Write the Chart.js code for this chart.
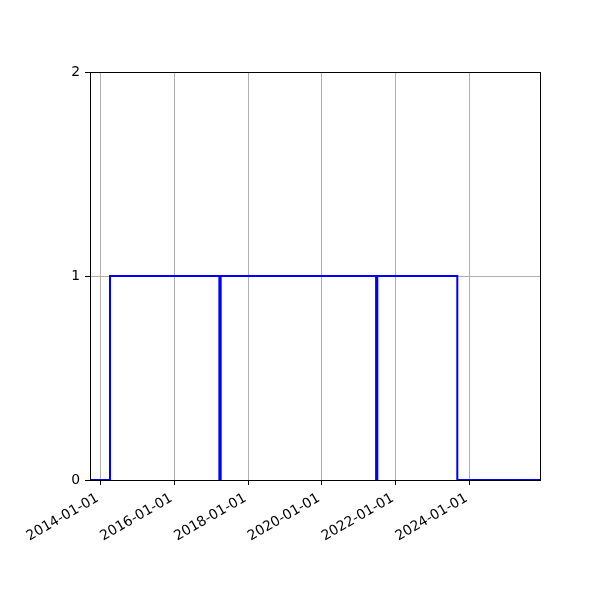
<!DOCTYPE html>
<html>
<head>
<meta charset="utf-8">
<script src="https://cdn.jsdelivr.net/npm/chart.js@4"></script>
<style>
  html, body { margin: 0; padding: 0; background: #fff; }
  canvas { display: block; }
</style>
</head>
<body>
<canvas id="steps" width="600" height="600"></canvas>
<script>
  // ===============Data ==================//
  const stepDates = [
    "2013-09-17",
    "2014-04-03",
    "2017-03-21",
    "2017-04-03",
    "2021-06-20",
    "2021-07-02",
    "2023-09-02",
    "2025-11-29",
  ];
  const stepValues = [0, 1, 0, 1, 0, 1, 0, 0];
  const tickDates = [
    "2014-01-01",
    "2016-01-01",
    "2018-01-01",
    "2020-01-01",
    "2022-01-01",
    "2024-01-01",
  ];
  const yTicks = [0, 1, 2];
  const xLimits = ["2013-09-17", "2025-11-29"];

  const toTime = (d) => Date.parse(d + "T00:00:00Z");
  const fmtDate = (t) => new Date(t).toISOString().slice(0, 10);

  // draws the top and right spines like matplotlib
  const frame = {
    id: "frame",
    afterDatasetsDraw(chart) {
      const { ctx, chartArea } = chart;
      ctx.save();
      ctx.strokeStyle = "#000";
      ctx.lineWidth = 1;
      ctx.strokeRect(
        Math.round(chartArea.left) + 0.5,
        Math.round(chartArea.top) + 0.5,
        Math.round(chartArea.right - chartArea.left),
        Math.round(chartArea.bottom - chartArea.top)
      );
      ctx.restore();
    },
  };

  const font = { family: "DejaVu Sans", size: 13.9 };

  const steps = document.getElementById("steps");
  new Chart(steps, {
    type: "line",
    plugins: [frame],
    data: {
      datasets: [
        {
          label: "",
          data: stepDates.map((d, i) => ({ x: toTime(d), y: stepValues[i] })),
          borderColor: "#0000ff",
          borderWidth: 2,
          pointRadius: 0,
          fill: false,
          stepped: "before",
          tension: 0,
        },
      ],
    },
    options: {
      responsive: false,
      animation: false,
      devicePixelRatio: 1,
      layout: {
        padding: { top: 72, right: 60, left: 0, bottom: 0 },
      },
      scales: {
        x: {
          type: "linear",
          min: toTime(xLimits[0]),
          max: toTime(xLimits[1]),
          afterBuildTicks: (scale) => {
            scale.ticks = tickDates.map((d) => ({ value: toTime(d) }));
          },
          afterFit: (scale) => {
            scale.height = 120;
          },
          ticks: {
            color: "#000",
            font: font,
            minRotation: 30,
            maxRotation: 30,
            padding: 5,
            labelOffset: -3,
            autoSkip: false,
            callback: (v) => fmtDate(v),
          },
          grid: {
            color: "#b0b0b0",
            lineWidth: 1,
            tickColor: "#000",
            tickLength: 5,
          },
          border: { color: "#000", width: 1 },
        },
        y: {
          min: 0,
          max: 2,
          afterBuildTicks: (scale) => {
            scale.ticks = yTicks.map((v) => ({ value: v }));
          },
          afterFit: (scale) => {
            scale.width = 90;
          },
          ticks: {
            color: "#000",
            font: font,
            padding: 5,
          },
          grid: {
            color: "#b0b0b0",
            lineWidth: 1,
            tickColor: "#000",
            tickLength: 5,
          },
          border: { color: "#000", width: 1 },
        },
      },
      plugins: {
        legend: { display: false },
        tooltip: { enabled: false },
      },
    },
  });
</script>
</body>
</html>
